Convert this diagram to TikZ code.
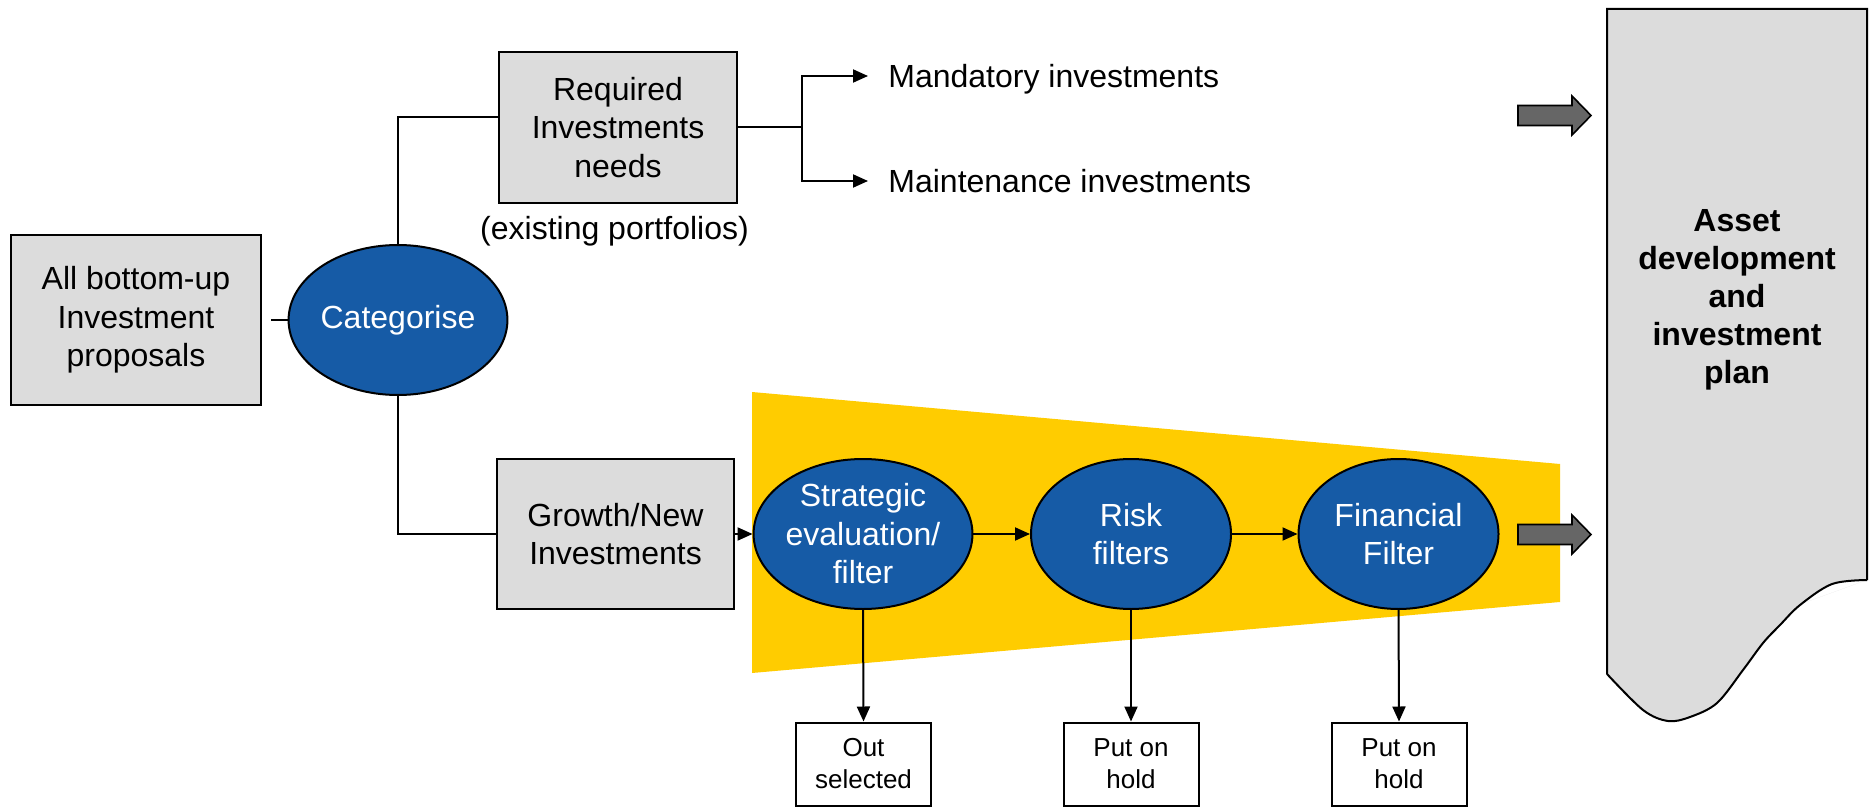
\documentclass[tikz,border=0pt]{standalone}
\usepackage{fontspec}
\setmainfont{Liberation Sans}
\usetikzlibrary{shapes.geometric,arrows.meta}

\definecolor{boxgray}{RGB}{220,220,220}
\definecolor{filterblue}{RGB}{22,91,166}
\definecolor{funnelyellow}{RGB}{255,204,0}
\definecolor{arrowgray}{RGB}{102,102,102}

\begin{document}
\begin{tikzpicture}[x=0.5pt,y=-0.5pt,
  every node/.style={font=\fontsize{16}{19.25}\selectfont},
  greybox/.style={draw=black, line width=1pt, fill=boxgray, inner sep=0pt, align=center},
  filter/.style={ellipse, draw=black, line width=1pt, fill=filterblue, text=white,
    minimum width=100pt, minimum height=75pt, inner sep=0pt, align=center},
  holdbox/.style={draw=black, line width=1pt, fill=white, minimum width=67.5pt,
    minimum height=41.5pt, inner sep=0pt, align=center, font=\fontsize{13}{16}\selectfont},
  outcome/.style={anchor=west, inner xsep=10pt, inner ysep=0pt, text height=11.5pt, text depth=0pt},
  link/.style={line width=1pt},
  flow/.style={link, -{Triangle[length=7.5pt,width=6.5pt]}},
  blockarrow/.pic={\draw[fill=arrowgray, line width=0.8pt]
    (0,-10) -- (54,-10) -- (54,-19.5) -- (73,0) -- (54,19.5) -- (54,10) -- (0,10) -- cycle;}
]
\useasboundingbox (0,0) rectangle (1871,807);
\fill[white] (0,0) rectangle (1871,807);

% funnel behind the filter stages
\fill[funnelyellow] (752,392) -- (1560,464) -- (1560,602) -- (752,673) -- cycle;

% plan document with torn lower edge
\draw[fill=boxgray, line width=1pt] (1607,674) -- (1607,9) -- (1867,9) -- (1867,580)
  plot[smooth, tension=0.55] coordinates {(1867,580) (1832,584) (1800,605) (1780,625)
  (1763,643) (1743,670) (1717,703) (1690,717) (1668,721) (1643,710) (1607,674)};
\node[font=\bfseries\fontsize{16}{19}\selectfont, align=center] (plan) at (1737,300)
  {Asset\\development\\and\\investment\\plan};

% block arrows into the plan
\pic at (1518,115.5) {blockarrow};
\pic at (1518,534.5) {blockarrow};

% nodes
\node[greybox, minimum width=125pt, minimum height=85pt] (src) at (136,320)
  {All bottom-up\\Investment\\proposals};
\node[filter] (cat) at (398,320) {Categorise};
\node[greybox, minimum width=119pt, minimum height=75.5pt] (req) at (618,127.5)
  {Required\\Investments\\needs};
\node[anchor=base] (exist) at (614.5,240) {(existing portfolios)};
\node[outcome] (mand) at (868,76) {Mandatory investments};
\node[outcome] (maint) at (868,181) {Maintenance investments};
\node[greybox, minimum width=118.5pt, minimum height=75pt] (grow) at (615.5,534)
  {Growth/New\\Investments};
\node[filter] (strat) at (863,534) {Strategic\\evaluation/\\filter};
\node[filter] (risk) at (1131,534) {Risk\\filters};
\node[filter] (fin) at (1398.5,534) {Financial\\Filter};
\node[holdbox] (out) at (863.5,764) {Out\\selected};
\node[holdbox] (hold1) at (1131,764) {Put on\\hold};
\node[holdbox] (hold2) at (1399,764) {Put on\\hold};

% connectors
\coordinate (split) at (802,127);
\draw[link, shorten <=4.5pt] (src.east) -- (cat.west);
\draw[link] (cat.north) |- ([yshift=5.25pt]req.west);
\draw[link] (req.east |- split) -- (split);
\draw[flow] (split) |- (mand.west);
\draw[flow] (split) |- (maint.west);
\draw[link] (cat.south) |- (grow.west);
\draw[flow] (grow.east) -- (strat.west);
\draw[flow] (strat.east) -- (risk.west);
\draw[flow] (risk.east) -- (fin.west);
\draw[flow] (strat.south) -- (out.north);
\draw[flow] (risk.south) -- (hold1.north);
\draw[flow] (fin.south) -- (hold2.north);
\end{tikzpicture}
\end{document}
